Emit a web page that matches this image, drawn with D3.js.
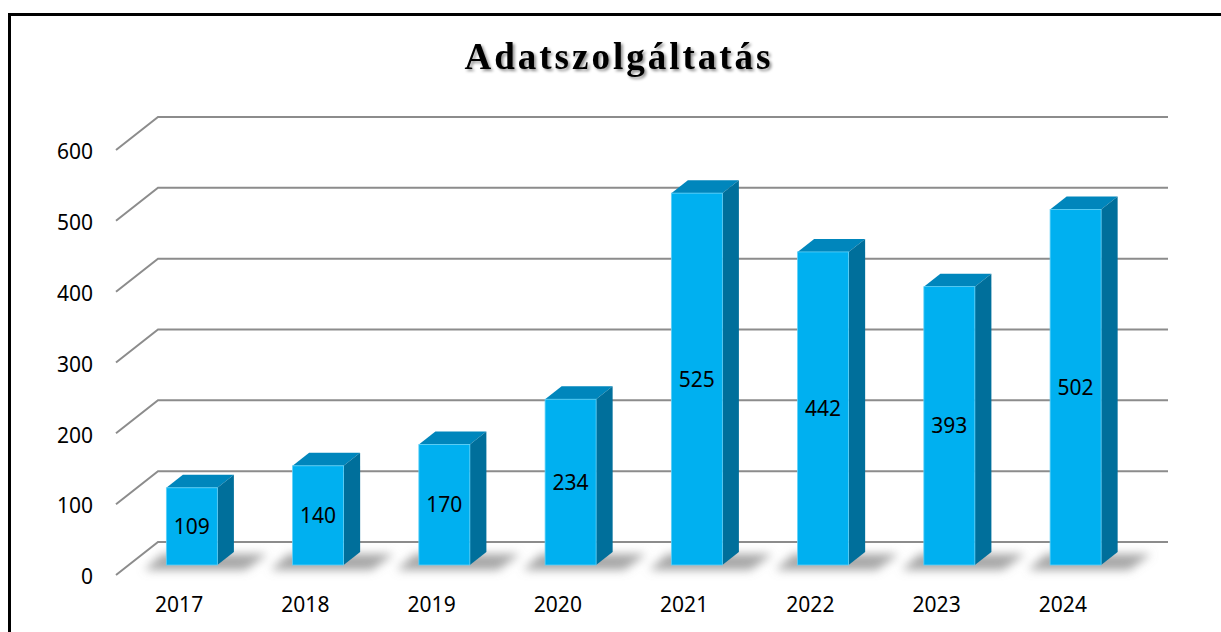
<!DOCTYPE html>
<html>
<head>
<meta charset="utf-8">
<script src="https://cdnjs.cloudflare.com/ajax/libs/d3/7.8.5/d3.min.js"></script>
<style>
  html, body { margin: 0; padding: 0; background: #fff; }
  svg { display: block; }
</style>
</head>
<body>
<script>
// Data
const years = ["2017", "2018", "2019", "2020", "2021", "2022", "2023", "2024"];
const values = [109, 140, 170, 234, 525, 442, 393, 502];
const yTicks = [0, 100, 200, 300, 400, 500, 600];
const chartTitle = "Adatszolgáltatás";

const W = 1221, H = 632;
const svg = d3.select("body").append("svg").attr("width", W).attr("height", H);

// 3D geometry: back wall and floor depth vector
const wallLeft = 158, wallRight = 1168;
const depthX = -42, depthY = 33;          // back wall -> front edge of floor
const frontFrac = 23 / 33, backFrac = 10 / 33; // bar faces as share of floor depth

const defs = svg.append("defs");
const ts = defs.append("filter").attr("id", "titleShadow")
  .attr("x", "-10%").attr("y", "-30%").attr("width", "120%").attr("height", "160%");
ts.append("feDropShadow").attr("dx", 2).attr("dy", 2).attr("stdDeviation", 1.6)
  .attr("flood-color", "#000").attr("flood-opacity", 0.45);
const bs = defs.append("filter").attr("id", "barShadow")
  .attr("x", "-50%").attr("y", "-200%").attr("width", "200%").attr("height", "500%");
bs.append("feGaussianBlur").attr("stdDeviation", 5);

// Frame
svg.append("rect").attr("x", 9.5).attr("y", 14.5).attr("width", 1300).attr("height", 700)
  .attr("fill", "none").attr("stroke", "#000").attr("stroke-width", 3);

// Title
svg.append("text")
  .attr("x", 619).attr("y", 69)
  .attr("text-anchor", "middle")
  .attr("font-family", "'Liberation Serif', 'Times New Roman', serif")
  .attr("font-weight", "bold")
  .attr("font-size", 37)
  .attr("letter-spacing", 3)
  .attr("fill", "#000")
  .attr("filter", "url(#titleShadow)")
  .text(chartTitle);

// Scales
const y = d3.scaleLinear().domain([0, 600]).range([542, 117]);
const x = d3.scaleBand().domain(years).range([wallLeft, wallRight])
  .paddingInner(0.596).paddingOuter(0.298);

// Gridlines on back wall with the diagonal on the side
const grid = svg.append("g").attr("stroke", "#8c8c8c").attr("stroke-width", 2).attr("fill", "none");
grid.selectAll("path").data(yTicks).join("path")
  .attr("d", d => `M${wallLeft + depthX},${y(d) + depthY}L${wallLeft},${y(d)}L${wallRight},${y(d)}`);

// Front-plane scales for axis labels
const yFront = d3.scaleLinear().domain([0, 600]).range([542 + depthY, 117 + depthY]);
const xFront = d3.scaleBand().domain(years).range([wallLeft + depthX, wallRight + depthX]);

const fontFam = "'Noto Sans', 'Open Sans', sans-serif";
const fs = 21;
const yAxis = svg.append("g").attr("transform", `translate(${wallLeft + depthX},0)`)
  .call(d3.axisLeft(yFront).tickValues(yTicks).tickSize(0).tickPadding(23).tickFormat(d3.format("d")));
yAxis.select(".domain").remove();
yAxis.selectAll("text").attr("font-family", fontFam).attr("font-size", fs).attr("fill", "#000").attr("dy", "0.42em");

const xAxis = svg.append("g").attr("transform", `translate(0,${542 + depthY})`)
  .call(d3.axisBottom(xFront).tickSize(0).tickPadding(22));
xAxis.select(".domain").remove();
xAxis.selectAll("text").attr("font-family", fontFam).attr("font-size", fs).attr("fill", "#000");

// Bars
const fdx = depthX * frontFrac, fdy = depthY * frontFrac;   // front face offset from wall
const bdx = depthX * backFrac, bdy = depthY * backFrac;     // back face offset from wall
const bw = x.bandwidth();
const data = years.map((yr, i) => ({ yr, v: values[i] }));

// soft shadow cast on the floor around each bar's base
const shadows = svg.append("g").attr("filter", "url(#barShadow)");
shadows.selectAll("path").data(data).join("path")
  .attr("d", d => {
    const x0 = x(d.yr) + fdx, yb = y(0) + fdy;
    return `M${x0 - 22},${yb + 5}L${x0 + bw + 28},${yb + 5}L${x0 + bw + 50},${yb - 11}` +
           `L${x0 - 4},${yb - 11}Z`;
  })
  .attr("fill", "#8a8a8a").attr("opacity", 0.75);

const bars = svg.append("g").selectAll("g").data(data).join("g");

// top face
bars.append("path")
  .attr("d", d => {
    const x0 = x(d.yr) + fdx, yt = y(d.v) + fdy;
    const ddx = bdx - fdx, ddy = bdy - fdy;
    return `M${x0},${yt}L${x0 + bw},${yt}L${x0 + bw + ddx},${yt + ddy}L${x0 + ddx},${yt + ddy}Z`;
  })
  .attr("fill", "#0086BC");

// side face
bars.append("path")
  .attr("d", d => {
    const x1 = x(d.yr) + fdx + bw, yt = y(d.v) + fdy, yb = y(0) + fdy;
    const ddx = bdx - fdx, ddy = bdy - fdy;
    return `M${x1},${yt}L${x1 + ddx},${yt + ddy}L${x1 + ddx},${yb + ddy}L${x1},${yb}Z`;
  })
  .attr("fill", "#006F9B");

// front face
bars.append("rect")
  .attr("x", d => x(d.yr) + fdx)
  .attr("y", d => y(d.v) + fdy)
  .attr("width", bw)
  .attr("height", d => y(0) - y(d.v))
  .attr("fill", "#00B0F0")
  .attr("stroke", "#5fd0f7").attr("stroke-width", 0.8);

// value labels
bars.append("text")
  .attr("x", d => x(d.yr) + fdx + bw / 2)
  .attr("y", d => (y(d.v) + y(0)) / 2 + fdy)
  .attr("dy", "0.36em")
  .attr("text-anchor", "middle")
  .attr("font-family", fontFam).attr("font-size", fs).attr("fill", "#000")
  .text(d => d.v);
</script>
</body>
</html>
